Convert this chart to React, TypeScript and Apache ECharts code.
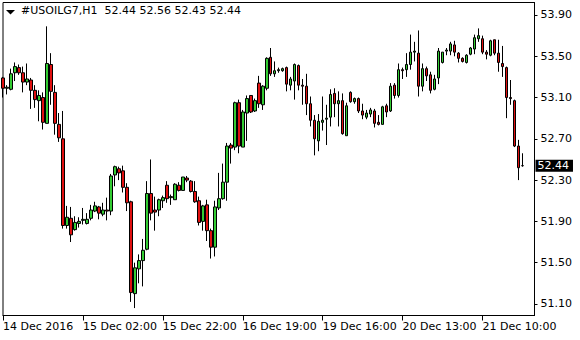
import React, { useEffect, useRef } from 'react';
import * as echarts from 'echarts';

const symbolName = '#USOILG7,H1';

const opens = [
  53.29, 53.19, 53.18, 53.34, 53.39, 53.34, 53.25, 53.27, 53.17, 53.07,
  53.10, 52.85, 53.42, 53.15, 52.84, 52.70, 51.86, 51.93, 51.82, 51.88,
  51.91, 51.88, 51.93, 52.00, 52.04, 51.97, 52.01, 52.00, 52.35, 52.41,
  52.39, 52.23, 52.09, 51.20, 51.44, 51.52, 51.63, 52.17, 52.01, 52.01,
  52.10, 52.25, 52.13, 52.11, 52.25, 52.20, 52.32, 52.29, 52.19, 52.10,
  51.90, 52.06, 51.81, 51.65, 52.03, 52.12, 52.28, 52.64, 52.62, 53.05,
  52.62, 52.95, 53.12, 52.97, 53.24, 53.03, 53.19, 53.49, 53.33, 53.36,
  53.36, 53.39, 53.22, 53.26, 53.41, 53.22, 53.21, 53.04, 52.88, 52.68,
  52.86, 52.89, 52.91, 53.14, 53.04, 53.07, 52.73, 53.15, 53.06, 53.09,
  52.97, 52.91, 52.94, 52.97, 52.86, 52.84, 53.02, 52.97, 53.22, 53.12,
  53.37, 53.37, 53.42, 53.54, 53.53, 53.21, 53.38, 53.32, 53.18, 53.29,
  53.44, 53.55, 53.55, 53.61, 53.53, 53.48, 53.44, 53.52, 53.57, 53.67,
  53.67, 53.54, 53.51, 53.66, 53.53, 53.43, 53.39, 53.10, 53.07, 52.63,
  52.44,
];

const closes = [
  53.19, 53.20, 53.33, 53.40, 53.34, 53.25, 53.28, 53.17, 53.08, 53.12,
  52.86, 53.43, 53.16, 52.85, 52.71, 51.86, 51.94, 51.77, 51.89, 51.90,
  51.92, 51.92, 52.01, 52.05, 51.98, 52.01, 52.00, 52.34, 52.43, 52.37,
  52.23, 52.08, 51.21, 51.45, 51.52, 51.62, 52.17, 51.98, 51.99, 52.11,
  52.13, 52.12, 52.14, 52.26, 52.20, 52.33, 52.30, 52.19, 52.09, 51.89,
  52.05, 51.81, 51.65, 52.04, 52.12, 52.28, 52.63, 52.61, 53.05, 52.63,
  52.96, 53.09, 52.96, 53.07, 53.04, 53.21, 53.48, 53.33, 53.36, 53.37,
  53.38, 53.23, 53.28, 53.42, 53.22, 53.21, 53.04, 52.88, 52.70, 52.87,
  52.88, 52.90, 53.13, 53.04, 53.07, 52.75, 53.02, 53.06, 53.09, 52.97,
  52.93, 52.95, 52.98, 52.85, 52.84, 53.01, 52.96, 53.21, 53.12, 53.37,
  53.36, 53.42, 53.54, 53.55, 53.21, 53.38, 53.31, 53.17, 53.28, 53.55,
  53.54, 53.56, 53.62, 53.54, 53.48, 53.45, 53.51, 53.58, 53.68, 53.70,
  53.54, 53.52, 53.65, 53.53, 53.44, 53.40, 53.10, 53.09, 52.63, 52.42,
  52.44,
];

const highs = [
  53.30, 53.22, 53.38, 53.44, 53.42, 53.40, 53.43, 53.29, 53.22, 53.17,
  53.15, 53.79, 53.53, 53.22, 52.95, 52.97, 52.05, 52.04, 51.95, 51.94,
  52.03, 51.98, 52.06, 52.09, 52.05, 52.08, 52.13, 52.36, 52.44, 52.43,
  52.44, 52.27, 52.10, 51.50, 51.58, 51.73, 52.29, 52.50, 52.14, 52.12,
  52.15, 52.29, 52.16, 52.27, 52.28, 52.33, 52.34, 52.30, 52.29, 52.14,
  52.06, 52.11, 51.83, 52.10, 52.37, 52.46, 52.66, 52.66, 53.06, 53.08,
  52.98, 53.12, 53.12, 53.09, 53.31, 53.22, 53.49, 53.58, 53.45, 53.39,
  53.39, 53.40, 53.30, 53.43, 53.42, 53.28, 53.33, 53.11, 52.93, 52.94,
  53.11, 53.03, 53.18, 53.19, 53.16, 53.14, 53.05, 53.16, 53.10, 53.10,
  53.04, 52.98, 53.00, 52.99, 52.93, 53.02, 53.04, 53.24, 53.24, 53.43,
  53.39, 53.53, 53.71, 53.64, 53.75, 53.43, 53.40, 53.35, 53.32, 53.58,
  53.54, 53.58, 53.64, 53.65, 53.54, 53.49, 53.52, 53.59, 53.71, 53.77,
  53.70, 53.56, 53.66, 53.66, 53.66, 53.60, 53.40, 53.27, 53.08, 52.69,
  52.56,
];

const lows = [
  53.10, 53.13, 53.17, 53.26, 53.32, 53.15, 53.22, 52.99, 53.00, 52.87,
  52.79, 52.85, 53.03, 52.74, 52.67, 51.83, 51.83, 51.70, 51.81, 51.84,
  51.87, 51.87, 51.91, 51.99, 51.92, 51.95, 51.91, 51.96, 52.24, 52.30,
  52.18, 52.00, 51.12, 51.06, 51.30, 51.27, 51.62, 51.91, 51.81, 51.95,
  52.03, 52.08, 52.06, 52.11, 52.19, 52.20, 52.28, 52.18, 52.08, 51.86,
  51.81, 51.71, 51.54, 51.56, 52.01, 52.11, 52.10, 52.46, 52.59, 52.56,
  52.62, 52.68, 52.95, 52.96, 53.00, 52.98, 53.17, 53.31, 53.30, 53.34,
  53.35, 53.16, 53.17, 53.08, 53.17, 53.03, 52.93, 52.82, 52.54, 52.58,
  52.78, 52.64, 52.82, 52.91, 52.82, 52.74, 52.73, 53.05, 53.04, 52.95,
  52.89, 52.89, 52.91, 52.81, 52.83, 52.84, 52.91, 52.96, 53.09, 53.10,
  53.28, 53.30, 53.37, 53.45, 53.11, 53.16, 53.26, 53.14, 53.17, 53.23,
  53.43, 53.51, 53.51, 53.50, 53.44, 53.44, 53.43, 53.51, 53.52, 53.64,
  53.52, 53.47, 53.50, 53.51, 53.35, 53.30, 52.90, 53.03, 52.62, 52.30,
  52.43,
];

const xTickLabels = [
  '14 Dec 2016',
  '15 Dec 02:00',
  '15 Dec 22:00',
  '16 Dec 19:00',
  '19 Dec 16:00',
  '20 Dec 13:00',
  '21 Dec 10:00',
];
const xTickStep = 20;
const emptySlots = 3;

const yTickValues = [51.1, 51.5, 51.9, 52.3, 52.7, 53.1, 53.5, 53.9];
const yMin = 50.988;
const yMax = 54.021;

export default function App() {
  const ref = useRef<HTMLDivElement>(null);

  useEffect(() => {
    if (!ref.current) return;
    const chart = echarts.init(ref.current, null, { renderer: 'svg' });
    const n = opens.length;
    const categories = Array.from({ length: n + emptySlots }, (_, i) => String(i));
    const data = opens.map((o, i) => [o, closes[i], lows[i], highs[i]]);
    const last = n - 1;
    const fmt = (v: number) => v.toFixed(2);
    const isTick = (i: number) => i % xTickStep === 0 && i / xTickStep < xTickLabels.length;
    const font = 'DejaVu Sans';

    chart.setOption({
      animation: false,
      backgroundColor: '#ffffff',
      textStyle: { fontFamily: font },
      title: {
        text: `${symbolName}  ${fmt(opens[last])} ${fmt(highs[last])} ${fmt(lows[last])} ${fmt(closes[last])}`,
        left: 21,
        top: 5,
        padding: 0,
        textStyle: { fontSize: 11, fontWeight: 'normal', color: '#000', fontFamily: font },
      },
      graphic: [
        {
          type: 'polygon',
          shape: { points: [[6, 10], [15, 10], [10.5, 14.5]] },
          style: { fill: '#000' },
        },
      ],
      grid: {
        left: 2.5,
        top: 2.5,
        width: 532,
        height: 313,
        show: true,
        borderColor: '#000',
        borderWidth: 1,
        backgroundColor: '#fff',
      },
      xAxis: {
        type: 'category',
        data: categories,
        boundaryGap: false,
        axisLine: { show: true, lineStyle: { color: '#000', width: 1 } },
        axisTick: {
          show: true,
          interval: (i: number) => isTick(i),
          length: 5,
          lineStyle: { color: '#000', width: 1 },
        },
        axisLabel: {
          interval: (i: number) => isTick(i),
          formatter: (_v: string, i: number) => xTickLabels[i / xTickStep] ?? '',
          align: 'left',
          margin: 5,
          color: '#000',
          fontSize: 11,
          fontFamily: font,
        },
        splitLine: { show: false },
      },
      yAxis: {
        type: 'value',
        position: 'right',
        min: yMin,
        max: yMax,
        axisLine: { show: true, lineStyle: { color: '#000', width: 1 } },
        axisTick: {
          show: true,
          customValues: yTickValues,
          length: 3,
          lineStyle: { color: '#000', width: 1 },
        },
        axisLabel: {
          customValues: yTickValues,
          formatter: (v: number) => v.toFixed(2),
          margin: 6,
          color: '#000',
          fontSize: 11,
          fontFamily: font,
        },
        splitLine: { show: false },
      },
      series: [
        {
          type: 'candlestick',
          data,
          barWidth: 3,
          itemStyle: {
            color: '#33cc33',
            color0: '#e01010',
            borderColor: '#000',
            borderColor0: '#000',
            borderColorDoji: '#000',
            borderWidth: 1,
          },
          markLine: {
            silent: true,
            symbol: 'none',
            data: [{ yAxis: closes[last] }],
            lineStyle: { color: 'transparent', width: 0 },
            label: {
              show: true,
              position: 'end',
              distance: 1,
              formatter: fmt(closes[last]),
              backgroundColor: '#000',
              color: '#fff',
              fontSize: 11,
              fontFamily: font,
              padding: [1, 4, 0, 2],
            },
          },
        },
      ],
    });

    return () => chart.dispose();
  }, []);

  return (
    <div
      ref={ref}
      style={{ position: 'fixed', left: 0, top: 0, width: 580, height: 340 }}
    />
  );
}
